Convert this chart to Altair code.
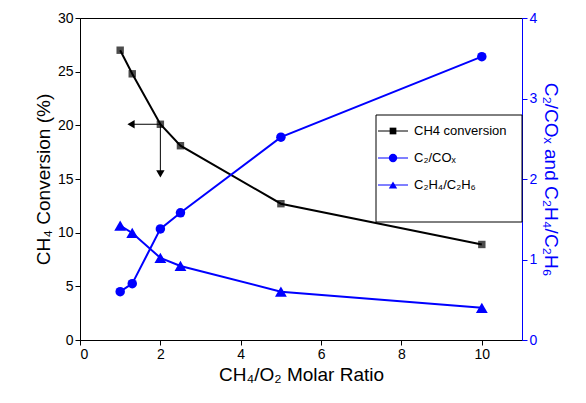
import pandas as pd
import altair as alt

ratio = [1, 1.3, 2, 2.5, 5, 10]
conversion = [27.0, 24.8, 20.1, 18.1, 12.7, 8.9]
c2_cox = [0.60, 0.70, 1.38, 1.58, 2.52, 3.52]
c2h4_c2h6 = [1.42, 1.33, 1.02, 0.92, 0.60, 0.40]

df = pd.DataFrame({"x": ratio, "conv": conversion, "cox": c2_cox, "eth": c2h4_c2h6})

xs = alt.Scale(domain=[0, 11], nice=False)
xax = alt.Axis(values=[0, 2, 4, 6, 8, 10], title="CH₄/O₂ Molar Ratio", titleFontSize=19,
               titleFontWeight="normal", labelFontSize=14, grid=False, tickColor="black",
               domainColor="black", labelColor="black", titleColor="black")
base = alt.Chart(df)

left_y = alt.Y("conv:Q", scale=alt.Scale(domain=[0, 30]),
               axis=alt.Axis(values=list(range(0, 31, 5)), title="CH₄ Conversion (%)",
                             titleFontSize=19, titleFontWeight="normal", labelFontSize=14,
                             grid=False, titleColor="black", labelColor="black",
                             domainColor="black", tickColor="black"))
conv_line = base.mark_line(color="black").encode(x=alt.X("x:Q", scale=xs, axis=xax), y=left_y)
conv_pts = base.mark_square(size=55, color="black", filled=True).encode(x=alt.X("x:Q", scale=xs), y="conv:Q")

arr = pd.DataFrame({"x": [2, 2], "y": [20.1, 20.1], "x2": [1.3, 2], "y2": [20.1, 15.6],
                    "ang": [270, 180]})
arr_lines = alt.Chart(arr).mark_rule(color="black").encode(
    x=alt.X("x:Q", scale=xs), y="y:Q", x2="x2:Q", y2="y2:Q")
arr_heads = alt.Chart(arr).mark_point(shape="triangle", filled=True, color="black", size=70, opacity=1).encode(
    x=alt.X("x2:Q", scale=xs), y="y2:Q", angle=alt.Angle("ang:Q", scale=None))

left = alt.layer(conv_line, conv_pts, arr_lines, arr_heads)

right_y = alt.Y("cox:Q", scale=alt.Scale(domain=[0, 4]),
                axis=alt.Axis(orient="right", values=[0, 1, 2, 3, 4], format="d",
                              title="C₂/COₓ and C₂H₄/C₂H₆",
                              titleFontSize=19, titleFontWeight="normal", labelFontSize=14, grid=False,
                              titleColor="blue", labelColor="blue", domainColor="blue", tickColor="blue"))
cox_line = base.mark_line(color="blue").encode(x=alt.X("x:Q", scale=xs), y=right_y)
cox_pts = base.mark_circle(size=90, color="blue", opacity=1).encode(x=alt.X("x:Q", scale=xs), y="cox:Q")
eth_line = base.mark_line(color="blue").encode(x=alt.X("x:Q", scale=xs), y="eth:Q")
eth_pts = base.mark_point(shape="triangle-up", size=140, color="blue", filled=True, opacity=1).encode(
    x=alt.X("x:Q", scale=xs), y="eth:Q")
right = alt.layer(cox_line, cox_pts, eth_line, eth_pts)

leg_labels = ["CH4 conversion", "C₂/COₓ", "C₂H₄/C₂H₆"]
leg_cols = ["black", "blue", "blue"]
leg_shapes = ["square", "circle", "triangle-up"]
box = alt.Chart(df.head(1)).mark_rect(fill="white", stroke="black").encode(
    x=alt.value(296), x2=alt.value(442), y=alt.value(97), y2=alt.value(204))
legend = [box]
for i, (lab, col, shp) in enumerate(zip(leg_labels, leg_cols, leg_shapes)):
    yy = 113 + i * 27
    legend.append(alt.Chart(df.head(1)).mark_rule(color=col).encode(
        x=alt.value(298), x2=alt.value(328), y=alt.value(yy)))
    legend.append(alt.Chart(df.head(1)).mark_point(shape=shp, filled=True, color=col, opacity=1,
                                                  size=70 if shp != "square" else 45).encode(
        x=alt.value(313), y=alt.value(yy)))
    legend.append(alt.Chart(df.head(1)).mark_text(align="left", fontSize=13, color="black").encode(
        x=alt.value(334), y=alt.value(yy), text=alt.value(lab)))

chart = alt.layer(left, right, *legend).resolve_scale(y="independent").properties(
    width=442, height=322, autosize="none",
    padding={"left": 72, "top": 10, "right": 56, "bottom": 63}
).configure_view(stroke="black").configure_axis(labelFont="Arial", titleFont="Arial").configure_text(font="Arial")

chart.save("out.html", embed_options={"renderer": "svg", "actions": False})
